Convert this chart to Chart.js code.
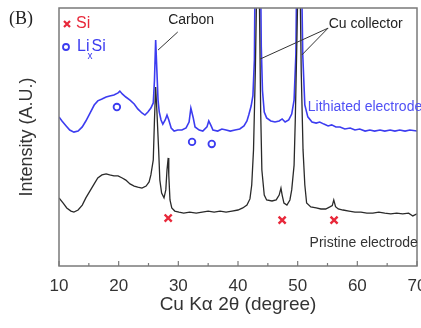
<!DOCTYPE html>
<html lang="en">
<head>
<meta charset="UTF-8">
<title>XRD patterns</title>
<script src="https://cdn.jsdelivr.net/npm/chart.js"></script>
<style>
    html, body {
        margin: 0;
        padding: 0;
        background: #fff;
        overflow: hidden;
    }
    #wrap {
        position: relative;
        width: 440px;
        height: 328px;
    }
</style>
</head>
<body>
<div id="wrap">
    <canvas id="xrd" width="440" height="328"></canvas>
</div>

<script>
// 2theta (deg) / intensity (a.u.) pairs
const lithiatedScan = [
    [10.0,57.8],[10.5,56.2],[11.2,54.3],[11.8,52.7],[12.5,51.9],[13.2,52.3],[13.9,53.9],[14.5,56.2],
    [15.2,59.3],[15.9,62.4],[16.5,64.0],[17.2,64.7],[17.9,65.5],[18.5,65.9],[19.2,66.3],[19.9,67.1],
    [20.2,67.8],[20.6,66.7],[21.2,65.5],[21.9,64.3],[22.6,62.8],[23.2,60.9],[23.9,59.3],[24.4,58.5],
    [24.9,59.7],[25.4,61.2],[25.8,63.2],[26.0,72],[26.2,87.6],[26.4,76],[26.6,64.3],[26.8,59.7],
    [27.1,56.6],[27.4,55.0],[27.8,56.6],[28.1,58.5],[28.4,56.6],[28.8,53.5],[29.3,52.3],[29.9,52.7],
    [30.6,52.7],[31.3,53.5],[31.8,55.8],[32.1,61.2],[32.5,57.4],[32.8,53.9],[33.5,52.7],[34.1,52.3],
    [34.8,53.9],[35.1,56.2],[35.5,54.3],[35.8,52.7],[36.6,52.3],[37.3,53.1],[38.0,52.7],[38.7,52.3],
    [39.5,52.7],[40.3,53.1],[41.0,54.3],[41.5,56.2],[41.8,58.5],[42.2,62.0],[42.5,66],[42.75,80],
    [42.85,110],[43.1,170],[43.3,180],[43.55,170],[43.8,110],[43.9,85],[44.1,68],[44.4,59.7],
    [44.8,57.4],[45.5,56.2],[46.2,55.8],[46.9,56.2],[47.4,57.0],[47.9,55.8],[48.5,56.6],[49.0,58.9],
    [49.4,64.3],[49.7,82],[49.83,110],[50.05,170],[50.25,180],[50.45,170],[50.67,110],[50.85,82],
    [51.2,62.4],[51.7,57.8],[52.4,55.8],[53.1,55.4],[53.7,55.8],[54.4,55.0],[55.1,54.3],[55.7,54.7],
    [56.4,53.9],[57.1,53.9],[57.9,53.1],[58.8,53.5],[59.6,52.7],[60.4,53.1],[61.3,52.3],[62.1,52.7],
    [62.9,52.3],[63.8,52.7],[64.6,52.3],[65.5,52.7],[66.3,52.3],[67.1,52.7],[68.0,52.3],[68.8,52.7],
    [70.0,52.3]
];

const pristineScan = [
    [10.0,26.4],[10.7,24.4],[11.3,22.5],[12.0,21.3],[12.5,20.9],[13.2,21.7],[13.9,23.6],[14.5,26.4],
    [15.2,29.1],[15.9,31.8],[16.5,34.1],[17.2,35.3],[17.9,35.7],[18.5,35.3],[19.2,34.9],[19.9,34.9],
    [20.6,34.1],[21.2,33.3],[21.9,31.8],[22.6,31.0],[23.2,30.6],[23.9,30.2],[24.6,31.0],[25.1,32.6],
    [25.4,35.3],[25.8,41.1],[26.0,56.6],[26.2,69.4],[26.4,60.5],[26.7,45.0],[26.9,33.3],[27.2,28.3],
    [27.6,26.4],[27.9,29.5],[28.1,37.2],[28.3,41.9],[28.4,35.3],[28.6,25.6],[28.9,22.5],[29.4,21.3],
    [30.1,20.9],[30.9,20.5],[31.9,20.9],[33.0,20.5],[34.0,20.9],[35.0,21.3],[36.0,20.9],[37.0,21.3],
    [38.0,20.9],[39.0,21.3],[40.0,21.7],[40.8,22.5],[41.5,23.6],[42.0,26.0],[42.3,31.4],[42.6,45],
    [42.9,75],[43.15,110],[43.35,170],[43.55,110],[43.8,60],[44.0,37.2],[44.4,27.5],[44.8,25.6],
    [45.7,25.2],[46.4,25.6],[46.9,27.5],[47.2,30.2],[47.4,27.5],[47.7,24.4],[48.2,23.6],[48.7,25.6],
    [49.0,29.5],[49.4,39.1],[49.6,56.6],[49.85,85],[50.05,110],[50.22,170],[50.4,110],[50.6,75],
    [50.9,45],[51.2,31.4],[51.5,24.4],[52.2,22.9],[53.1,22.5],[53.9,22.1],[54.7,22.1],[55.4,22.9],
    [55.8,23.4],[56.05,25.6],[56.35,23.0],[56.8,22.1],[57.6,21.7],[58.6,21.3],[59.6,20.9],[60.6,20.9],
    [61.6,20.5],[62.6,20.5],[63.6,20.9],[64.6,20.5],[65.6,20.2],[66.6,20.5],[67.6,20.2],[68.6,20.5],
    [69.3,19.4],[70.0,20.2]
];

// reflection markers
const siAngles = [28.3, 47.4, 56.1];
const siMarkY = [18.6, 17.8, 17.8];
const lixsiAngles = [19.7, 32.3, 35.6];
const lixsiMarkY = [61.6, 48.1, 47.3];

const xTicks = [10, 20, 30, 40, 50, 60, 70];

const BLUE = '#3c3cf0';
const RED = '#e8283a';
const FONT = "'Liberation Sans', Arial, sans-serif";

function toPoints(scan) {
    return scan.map(p => ({ x: p[0], y: p[1] }));
}

const decorations = {
    id: 'decorations',
    afterDraw(chart) {
        const ctx = chart.ctx;
        const area = chart.chartArea;
        const xs = chart.scales.x;
        const ys = chart.scales.y;
        const px = v => xs.getPixelForValue(v);
        const py = v => ys.getPixelForValue(v);

        ctx.save();

        // frame
        ctx.strokeStyle = '#7a7a7a';
        ctx.lineWidth = 1.5;
        ctx.strokeRect(area.left, area.top, area.right - area.left, area.bottom - area.top);

        // inward tick marks on the bottom axis
        ctx.lineWidth = 1.2;
        for (let v = 10; v <= 70; v += 5) {
            const len = v % 10 === 0 ? 5 : 3;
            ctx.beginPath();
            ctx.moveTo(px(v), area.bottom);
            ctx.lineTo(px(v), area.bottom - len);
            ctx.stroke();
        }

        // panel tag
        ctx.fillStyle = '#222';
        ctx.font = "18px 'Liberation Serif', 'Times New Roman', serif";
        ctx.textBaseline = 'middle';
        ctx.textAlign = 'left';
        ctx.fillText('(B)', 9, 19);

        // legend
        const lx = area.left;
        const ly = area.top;
        ctx.font = '16px ' + FONT;
        ctx.fillStyle = RED;
        ctx.strokeStyle = RED;
        ctx.lineWidth = 2.2;
        ctx.beginPath();
        ctx.moveTo(lx + 5, ly + 13); ctx.lineTo(lx + 11, ly + 19);
        ctx.moveTo(lx + 11, ly + 13); ctx.lineTo(lx + 5, ly + 19);
        ctx.stroke();
        ctx.fillText('Si', lx + 17, ly + 16);

        ctx.strokeStyle = BLUE;
        ctx.fillStyle = BLUE;
        ctx.lineWidth = 1.8;
        ctx.beginPath();
        ctx.arc(lx + 7, ly + 39, 3, 0, Math.PI * 2);
        ctx.stroke();
        let tx = lx + 18;
        ctx.fillText('Li', tx, ly + 39);
        tx += ctx.measureText('Li').width;
        ctx.font = '10px ' + FONT;
        ctx.fillText('x', tx - 2, ly + 48);
        tx += ctx.measureText('x').width - 3;
        ctx.font = '16px ' + FONT;
        ctx.fillText('Si', tx, ly + 39);

        // peak labels with leader lines
        ctx.font = '14px ' + FONT;
        ctx.fillStyle = '#222';
        ctx.fillText('Carbon', px(28.3), py(95.3));
        ctx.fillText('Cu collector', px(55.2), py(93.8));

        ctx.strokeStyle = '#333';
        ctx.lineWidth = 1;
        ctx.beginPath();
        ctx.moveTo(px(29.9), py(90.7)); ctx.lineTo(px(26.6), py(83.7));
        ctx.moveTo(px(55.1), py(92.2)); ctx.lineTo(px(43.7), py(80.2));
        ctx.moveTo(px(55.1), py(92.2)); ctx.lineTo(px(50.7), py(81.8));
        ctx.stroke();

        ctx.fillStyle = '#5050f5';
        ctx.fillText('Lithiated electrode', px(51.7), py(61.6));
        ctx.fillStyle = '#333';
        ctx.fillText('Pristine electrode', px(52.0), py(8.8));

        ctx.restore();
    }
};

const ctx = document.getElementById('xrd').getContext('2d');

new Chart(ctx, {
    type: 'line',
    data: {
        datasets: [
            {
                label: 'Pristine electrode',
                data: toPoints(pristineScan),
                borderColor: '#2a2a2a',
                borderWidth: 1.3,
                pointRadius: 0,
                tension: 0
            },
            {
                label: 'Lithiated electrode',
                data: toPoints(lithiatedScan),
                borderColor: BLUE,
                borderWidth: 1.6,
                pointRadius: 0,
                tension: 0
            },
            {
                label: 'Si',
                type: 'scatter',
                data: siAngles.map((a, i) => ({ x: a, y: siMarkY[i] })),
                pointStyle: 'crossRot',
                pointRadius: 5,
                borderColor: RED,
                borderWidth: 2.4,
                showLine: false
            },
            {
                label: 'LixSi',
                type: 'scatter',
                data: lixsiAngles.map((a, i) => ({ x: a, y: lixsiMarkY[i] })),
                pointStyle: 'circle',
                pointRadius: 3.3,
                borderColor: BLUE,
                backgroundColor: 'rgba(255,255,255,0)',
                borderWidth: 1.8,
                showLine: false
            }
        ]
    },
    options: {
        responsive: false,
        animation: false,
        events: [],
        layout: {
            padding: { top: 8, right: 23, left: 0, bottom: 0 }
        },
        plugins: {
            legend: { display: false },
            tooltip: { enabled: false }
        },
        scales: {
            x: {
                type: 'linear',
                min: 10,
                max: 70,
                grid: { display: false, drawTicks: false },
                border: { display: false },
                afterBuildTicks: scale => {
                    scale.ticks = xTicks.map(v => ({ value: v }));
                },
                afterFit: scale => { scale.height = 62; },
                ticks: {
                    color: '#333',
                    padding: 10,
                    maxRotation: 0,
                    font: { family: FONT, size: 17 }
                },
                title: {
                    display: true,
                    text: 'Cu K\u03b1 2\u03b8 (degree)',
                    color: '#333',
                    padding: { top: 0, bottom: 12 },
                    font: { family: FONT, size: 19 }
                }
            },
            y: {
                min: 0,
                max: 100,
                grid: { display: false, drawTicks: false },
                border: { display: false },
                ticks: { display: false },
                afterFit: scale => { scale.width = 59; },
                title: {
                    display: true,
                    text: 'Intensity (A.U.)',
                    color: '#333',
                    padding: { top: 16, bottom: 0 },
                    font: { family: FONT, size: 18 }
                }
            }
        }
    },
    plugins: [decorations]
});
</script>
</body>
</html>
